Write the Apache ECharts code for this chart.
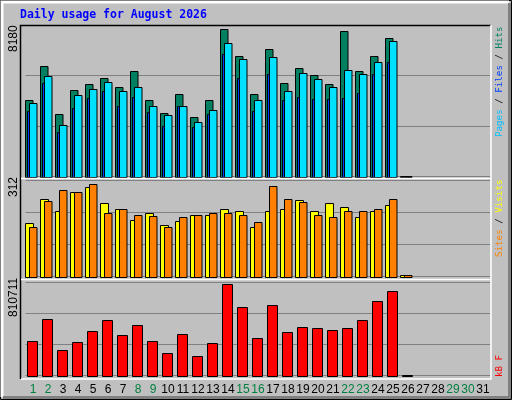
<!DOCTYPE html>
<html><head><meta charset="utf-8">
<script src="https://cdn.jsdelivr.net/npm/echarts@6/dist/echarts.min.js"></script>
<style>html,body{margin:0;padding:0;background:#C0C0C0}#c{width:512px;height:400px}</style>
</head><body><div id="c"></div>
<script>
const days = ['1','2','3','4','5','6','7','8','9','10','11','12','13','14','15','16','17','18','19','20','21','22','23','24','25','26','27','28','29','30','31'];
const weekend = [1,2,8,9,15,16,22,23,29,30];
const hits  = [4257,6127,3463,4812,5128,5461,4962,5850,4257,3519,4573,3297,4257,8180,6682,4573,7071,5184,6016,5628,5128,8070,5850,6682,7681,60];
const files = [4074,5572,2853,4518,4851,5239,4740,4962,3907,3408,3907,3019,3685,7404,6516,4240,6627,4740,5739,5406,4962,5905,5683,6349,7515,40];
const pages = [3646,5200,2464,3813,4368,4756,3907,4423,3591,2814,3907,2758,3463,6810,5461,3646,5683,4240,4407,4296,4296,4351,4629,5683,6349,20];
const visits= [186,270,231,294,312,256,238,197,221,179,193,217,217,238,228,172,231,235,266,228,256,242,207,228,249,7];
const sites = [172,263,301,294,322,221,238,214,211,172,207,217,224,224,214,190,316,270,259,217,207,228,228,235,270,7];
const kbytes= [304760,500040,224870,295880,393520,491160,358010,446780,304760,198240,366890,171610,287000,810711,606550,331390,624300,384640,429030,420150,402400,420150,491160,659810,748580,3000];
const maxLabels = ['8180','312','810711'];

const toData = a => a.map((v,i)=>[i,v]);
function bar(gi, arr, off, w, color, z){
  return {type:'custom', xAxisIndex:gi, yAxisIndex:gi, z:z, data:toData(arr),
    renderItem:function(p, api){
      const top = api.coord([api.value(0), api.value(1)]);
      const base = api.coord([api.value(0), 0]);
      const x = Math.round(top[0]+off)+0.5;
      const y = Math.round(top[1])+0.5;
      const yb = Math.round(base[1])+0.5;
      return {type:'rect', shape:{x:x, y:y, width:w, height:Math.max(yb-y,1)},
        style:{fill:color, stroke:'#000', lineWidth:1}};
    }};
}
const grids = [
  {left:25.5, width:465, top:25, height:151.7},
  {left:25.5, width:465, top:180, height:96.7},
  {left:25.5, width:465, top:282, height:93.7}
];
const maxes = [8419, 337.5, 832000];
const xAxes = grids.map((g,i)=>({type:'category', gridIndex:i, data:days, boundaryGap:true,
  axisLine:{show:false}, axisTick:{show:false},
  axisLabel:{show:i===2, interval:0, margin:8, fontFamily:'Liberation Sans', fontSize:12,
    color:(v)=> weekend.indexOf(+v)>=0 ? '#008040' : '#000'}}));
const yAxes = grids.map((g,i)=>({type:'value', gridIndex:i, min:0, max:maxes[i], interval:maxes[i]/3,
  axisLabel:{show:false}, axisLine:{show:false}, axisTick:{show:false},
  splitLine:{show:true, lineStyle:{color:'#808080', width:1}}}));

const rot = (x, y, text, rich, fontSize, family) => ({type:'text', x:x, y:y, rotation:Math.PI/2, z:10,
  style:{text:text, rich:rich, x:0, y:0, align:'left', verticalAlign:'middle', fill:'#000',
    font: fontSize+'px '+family}});
const mono = '"DejaVu Sans Mono"';
const graphic = [
  {type:'rect', shape:{x:0.5,y:0.5,width:511,height:399}, style:{fill:'#C0C0C0', stroke:'#000', lineWidth:1}, z:-10},
  {type:'polyline', shape:{points:[[2,397],[2,2],[509,2]]}, style:{stroke:'#fff', lineWidth:3, fill:null}, z:-9},
  {type:'polyline', shape:{points:[[3,397.5],[509.5,397.5],[509.5,3]]}, style:{stroke:'#808080', lineWidth:3, fill:null}, z:-9},
  {type:'rect', shape:{x:20,y:25,width:471,height:354}, style:{fill:'#C0C0C0'}, z:-8},
  {type:'polyline', shape:{points:[[20.5,379],[20.5,25.5],[491,25.5]]}, style:{stroke:'#000', lineWidth:1.5, fill:null}, z:5},
  {type:'polyline', shape:{points:[[21,379],[491,379],[491,25]]}, style:{stroke:'#fff', lineWidth:1.5, fill:null}, z:5},
  {type:'line', shape:{x1:21,y1:178.5,x2:491,y2:178.5}, style:{stroke:'#fff', lineWidth:1.5}, z:5},
  {type:'line', shape:{x1:21,y1:279.5,x2:491,y2:279.5}, style:{stroke:'#fff', lineWidth:1.5}, z:5},
  {type:'text', x:20, y:15, z:10, style:{text:'Daily usage for August 2026', fill:'#0000FF',
    font:'bold 11.5px '+mono, align:'left', verticalAlign:'middle'}},
  {type:'text', x:14, y:52, rotation:Math.PI/2, z:10, style:{text:maxLabels[0], x:0,y:0, align:'left', verticalAlign:'middle', fill:'#000', font:'12px "Liberation Sans"'}},
  {type:'text', x:14, y:197, rotation:Math.PI/2, z:10, style:{text:maxLabels[1], x:0,y:0, align:'left', verticalAlign:'middle', fill:'#000', font:'12px "Liberation Sans"'}},
  {type:'text', x:14, y:317, rotation:Math.PI/2, z:10, style:{text:maxLabels[2], x:0,y:0, align:'left', verticalAlign:'middle', fill:'#000', font:'12px "Liberation Sans"'}},
  rot(500, 137, '{p|Pages} / {f|Files} / {h|Hits}', {p:{fill:'#00C0FF'}, f:{fill:'#0040FF'}, h:{fill:'#008060'}}, 9.2, mono),
  rot(500, 257, '{s|Sites} / {v|Visits}', {s:{fill:'#FF8000'}, v:{fill:'#FFFF00'}}, 9.2, mono),
  rot(500, 377, '{k|kB F}', {k:{fill:'#FF0000'}}, 9.2, mono)
];

const chart = echarts.init(document.getElementById('c'), null, {renderer:'canvas'});
chart.setOption({
  animation:false, backgroundColor:'#C0C0C0',
  grid:grids, xAxis:xAxes, yAxis:yAxes, graphic:graphic,
  series:[
    bar(0, hits, -8, 7.5, '#008060', 2),
    bar(0, pages, -6, 3, '#0040FF', 3),
    bar(0, files, -4, 7.5, '#00E0FF', 4),
    bar(1, visits, -8, 8, '#FFFF00', 2),
    bar(1, sites, -4, 7.5, '#FF8000', 3),
    bar(2, kbytes, -6.5, 10, '#FF0000', 2)
  ]
});
</script></body></html>
